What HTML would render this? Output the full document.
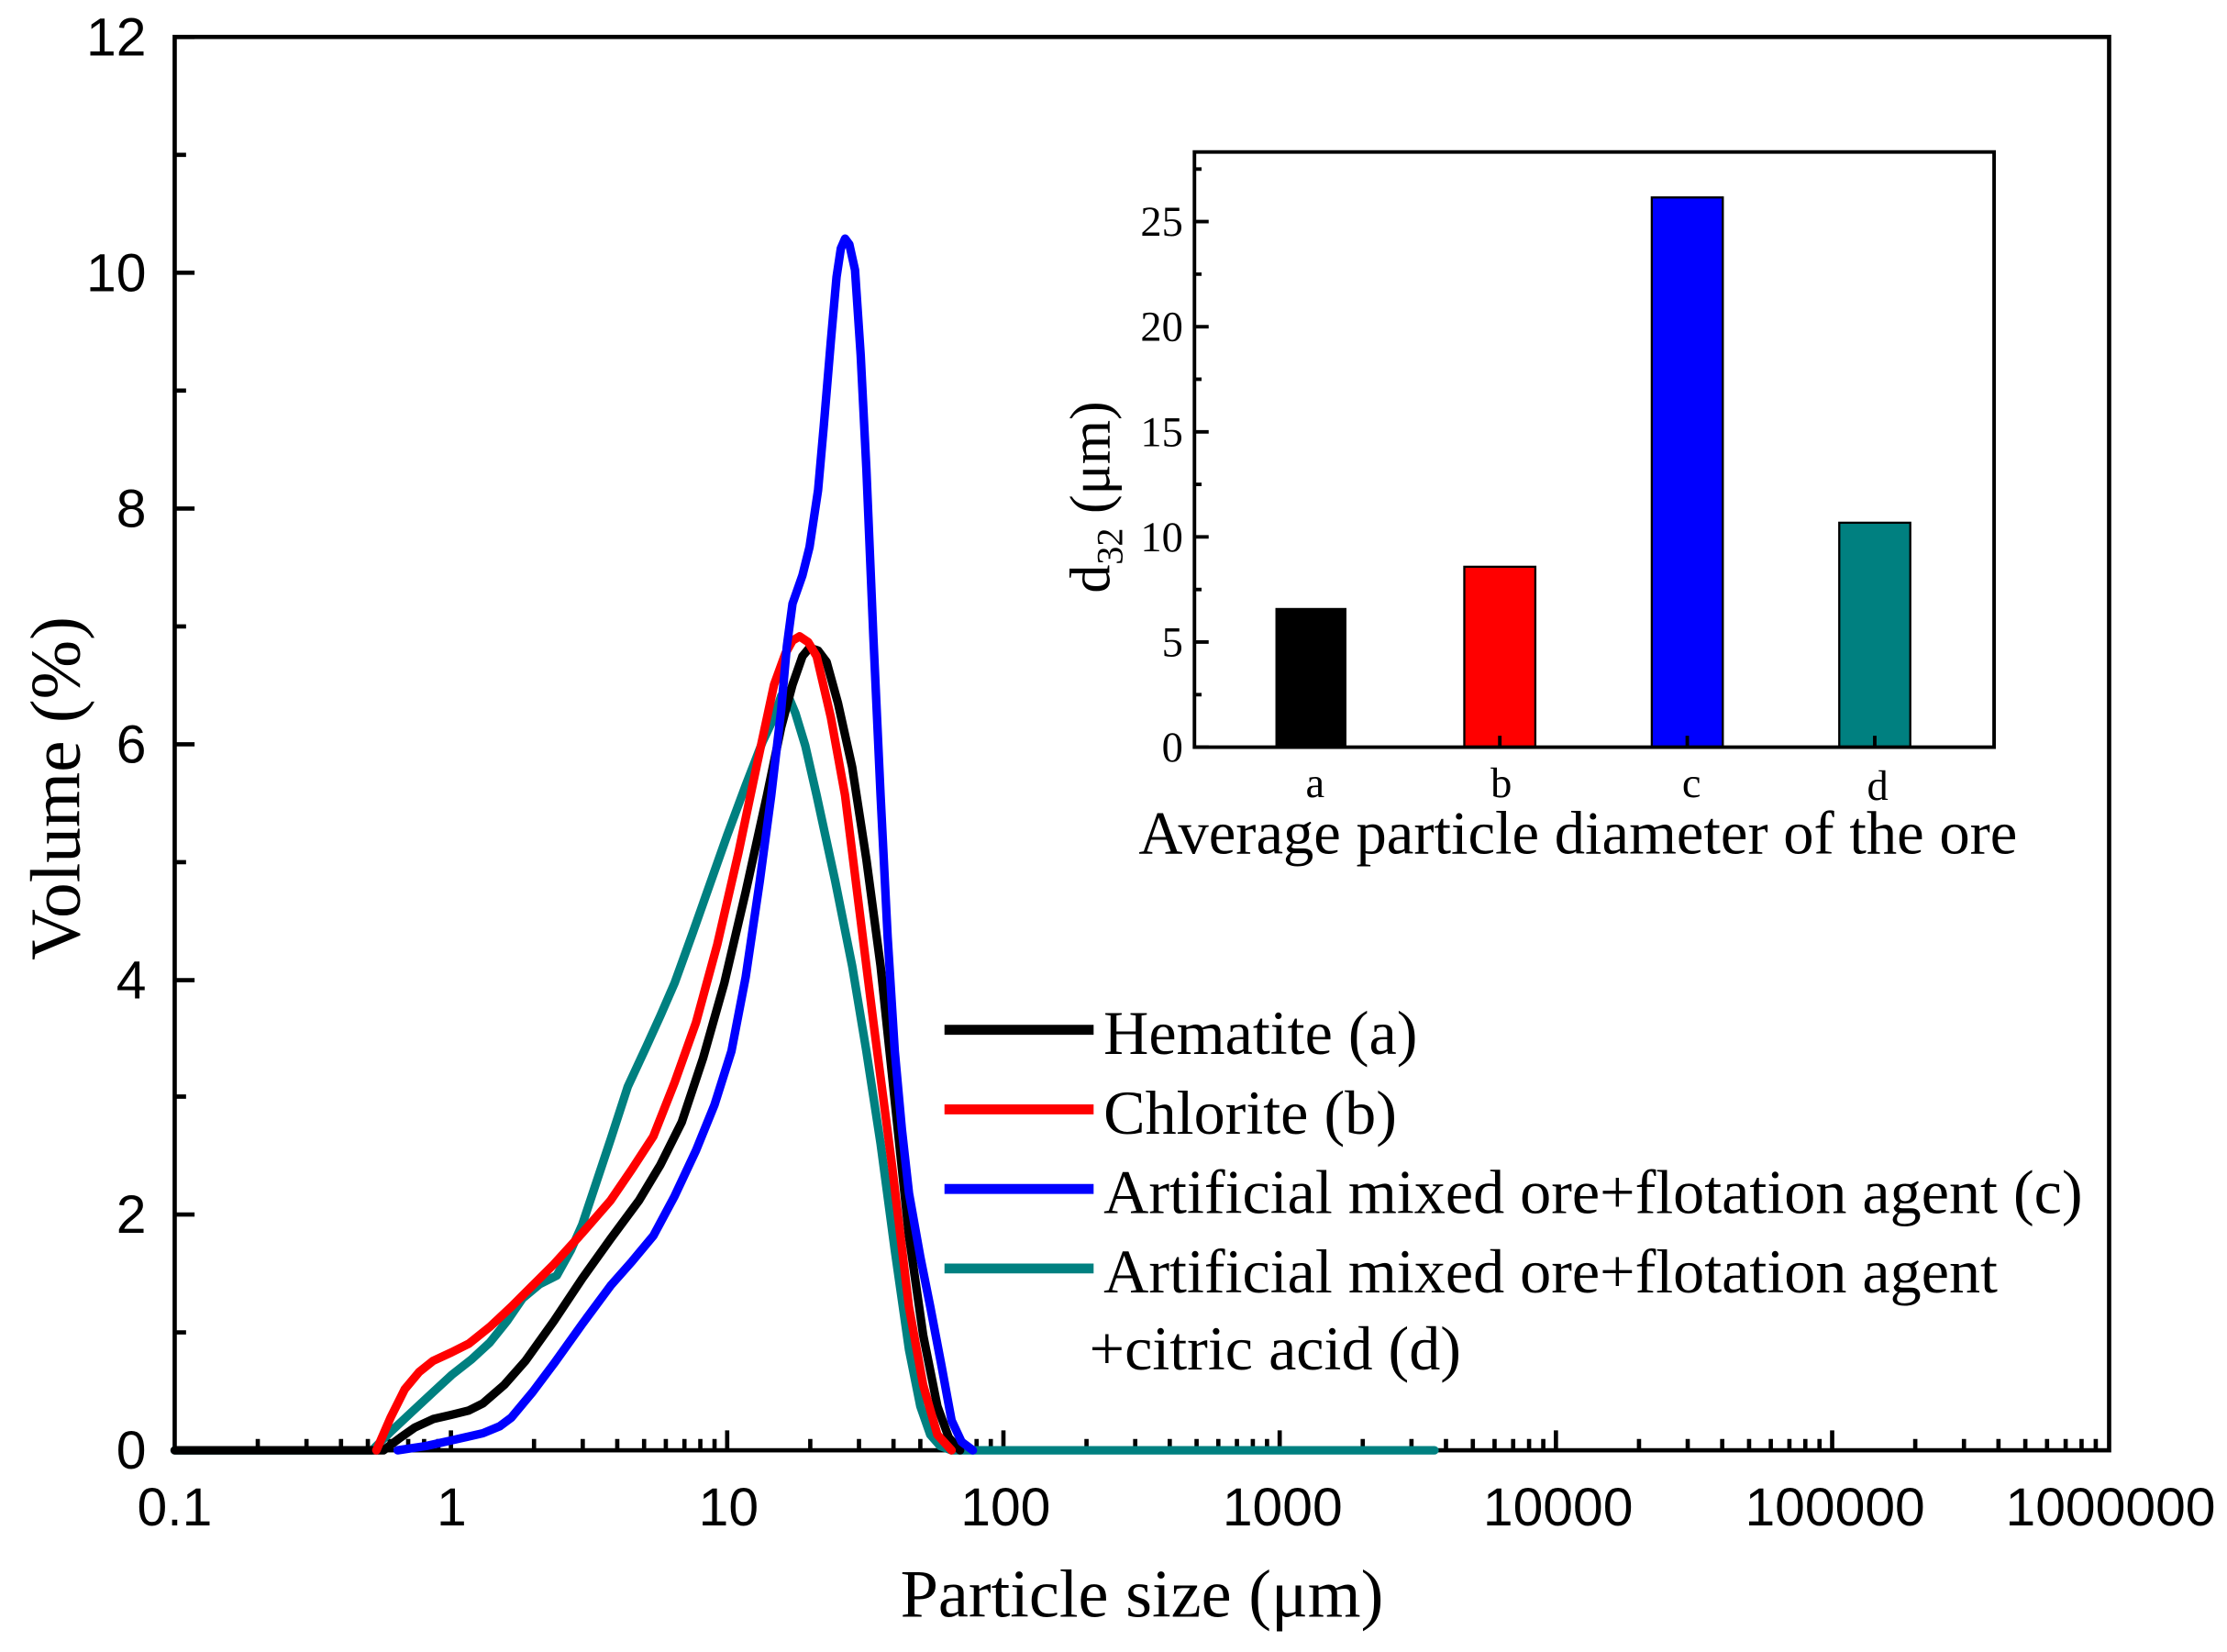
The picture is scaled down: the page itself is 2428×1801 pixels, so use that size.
<!DOCTYPE html>
<html><head><meta charset="utf-8"><style>html,body{margin:0;padding:0;background:#fff}svg{display:block}</style></head>
<body>
<svg width="2428" height="1801" viewBox="0 0 1568 1163" preserveAspectRatio="none" xmlns="http://www.w3.org/2000/svg">
<rect width="1568" height="1163" fill="#fff"/>
<g stroke="#000" stroke-width="3" fill="none">
<rect x="123" y="26" width="1362" height="995"/>
<path d="M123 1021h14M123 855h14M123 690h14M123 524h14M123 358h14M123 192h14M123 26h14
M123 938h8M123 772h8M123 607h8M123 441h8M123 275h8M123 109h8"/>
<path d="M317.5 1021v-14M512 1021v-14M706.5 1021v-14M901 1021v-14M1095.5 1021v-14M1290 1021v-14
M181.5 1021v-8M215.8 1021v-8M240.1 1021v-8M259 1021v-8M274.3 1021v-8M287.4 1021v-8M298.6 1021v-8M308.6 1021v-8
M376 1021v-8M410.3 1021v-8M434.6 1021v-8M453.5 1021v-8M468.8 1021v-8M481.9 1021v-8M493.1 1021v-8M503.1 1021v-8
M570.5 1021v-8M604.8 1021v-8M629.1 1021v-8M648 1021v-8M663.3 1021v-8M676.4 1021v-8M687.6 1021v-8M697.6 1021v-8
M765 1021v-8M799.3 1021v-8M823.6 1021v-8M842.5 1021v-8M857.8 1021v-8M870.9 1021v-8M882.1 1021v-8M892.1 1021v-8
M959.5 1021v-8M993.8 1021v-8M1018.1 1021v-8M1037 1021v-8M1052.3 1021v-8M1065.4 1021v-8M1076.6 1021v-8M1086.6 1021v-8
M1154 1021v-8M1188.3 1021v-8M1212.6 1021v-8M1231.5 1021v-8M1246.8 1021v-8M1259.9 1021v-8M1271.1 1021v-8M1281.1 1021v-8
M1348.5 1021v-8M1382.8 1021v-8M1407.1 1021v-8M1426 1021v-8M1441.3 1021v-8M1454.4 1021v-8M1465.6 1021v-8M1475.6 1021v-8"/>
</g>
<g font-family="Liberation Sans, sans-serif" font-size="38" text-anchor="end" fill="#000">
<text x="103" y="1034">0</text><text x="103" y="868">2</text><text x="103" y="703">4</text><text x="103" y="537">6</text><text x="103" y="371">8</text><text x="103" y="205">10</text><text x="103" y="39">12</text>
</g>
<g font-family="Liberation Sans, sans-serif" font-size="38" text-anchor="middle" fill="#000">
<text x="123" y="1074">0.1</text><text x="318" y="1074">1</text><text x="513" y="1074">10</text><text x="708" y="1074">100</text><text x="903" y="1074">1000</text><text x="1097" y="1074">10000</text><text x="1292" y="1074">100000</text><text x="1486" y="1074">1000000</text>
</g>
<text x="804" y="1138" font-family="Liberation Serif, serif" font-size="48" text-anchor="middle">Particle size (μm)</text>
<text transform="translate(56 555) rotate(-90)" font-family="Liberation Serif, serif" font-size="50" text-anchor="middle">Volume (%)</text>
<g fill="none" stroke-width="6" stroke-linejoin="round" stroke-linecap="round">
<polyline stroke="#008080" points="123,1021 262,1021 275,1008 290,994 305,980 318,968 332,957 345,945 357,930 368,914 380,904 392,898 402,880 410,862 420,832 430,802 442,765 455,737 465,715 475,692 488,656 500,622 512,588 525,553 537,522 545,505 550,490 555,490 560,502 567,525 575,560 588,620 600,680 610,740 620,805 630,880 640,950 648,990 655,1010 662,1018 670,1021 1010,1021"/>
<polyline stroke="#000" points="123,1021 270,1021 282,1012 292,1005 305,999 318,996 330,993 340,988 355,975 370,958 390,930 410,900 430,872 450,845 465,820 480,790 495,745 510,692 525,628 540,560 550,512 558,482 565,462 570,456 576,458 582,466 590,495 600,540 610,605 620,680 630,775 640,870 650,940 660,990 668,1012 676,1021"/>
<polyline stroke="#f00" points="265,1021 275,998 285,978 295,966 305,958 318,952 330,946 345,934 360,920 375,905 390,890 410,868 430,845 445,823 460,800 475,762 490,720 505,665 520,600 533,538 545,482 553,460 558,451 563,448 569,452 575,462 585,505 595,560 605,640 615,720 628,820 640,920 650,975 660,1010 670,1021"/>
<polyline stroke="#00f" points="280,1021 300,1018 318,1014 340,1009 352,1004 360,998 375,980 390,960 410,932 430,905 445,888 460,870 475,842 490,810 503,778 515,740 525,688 535,620 543,560 550,500 554,455 558,425 565,405 570,385 576,345 580,300 585,240 589,195 592,175 595,168 598,172 602,190 606,250 610,330 615,450 620,560 625,660 630,740 635,795 640,840 648,885 655,920 663,962 670,1000 677,1015 685,1021"/>
</g>
<g stroke-width="7">
<line x1="665" y1="725" x2="770" y2="725" stroke="#000"/>
<line x1="665" y1="781" x2="770" y2="781" stroke="#f00"/>
<line x1="665" y1="837" x2="770" y2="837" stroke="#00f"/>
<line x1="665" y1="893" x2="770" y2="893" stroke="#008080"/>
</g>
<g font-family="Liberation Serif, serif" font-size="44" fill="#000">
<text x="777" y="742">Hematite (a)</text>
<text x="777" y="798">Chlorite (b)</text>
<text x="777" y="854">Artificial mixed ore+flotation agent (c)</text>
<text x="777" y="910">Artificial mixed ore+flotation agent</text>
<text x="767" y="964">+citric acid (d)</text>
</g>
<rect x="898" y="428" width="50" height="98" fill="#000"/>
<rect x="1031" y="399" width="50" height="127" fill="#f00" stroke="#000" stroke-width="1.5"/>
<rect x="1163" y="139" width="50" height="387" fill="#00f" stroke="#000" stroke-width="1.5"/>
<rect x="1295" y="368" width="50" height="158" fill="#008080" stroke="#000" stroke-width="1.5"/>
<rect x="841" y="107" width="563" height="419" fill="none" stroke="#000" stroke-width="2.5"/>
<g stroke="#000" stroke-width="2.5">
<path d="M841 526h10M841 452h10M841 378h10M841 304h10M841 230h10M841 156h10M841 489h5M841 415h5M841 341h5M841 267h5M841 193h5M841 119h5M924 526v-8M1056 526v-8M1188 526v-8M1320 526v-8"/>
</g>
<g font-family="Liberation Serif, serif" font-size="30" text-anchor="end">
<text x="833" y="536">0</text><text x="833" y="462">5</text><text x="833" y="388">10</text><text x="833" y="314">15</text><text x="833" y="240">20</text><text x="833" y="166">25</text>
</g>
<g font-family="Liberation Serif, serif" font-size="30" text-anchor="middle">
<text x="926" y="561">a</text><text x="1057" y="561">b</text><text x="1191" y="561">c</text><text x="1322" y="563">d</text>
</g>
<text x="1111" y="601" font-family="Liberation Serif, serif" font-size="43" text-anchor="middle">Average particle diameter of the ore</text>
<text transform="translate(781 350) rotate(-90)" font-family="Liberation Serif, serif" font-size="40" text-anchor="middle">d<tspan font-size="26" dy="9">32</tspan><tspan dy="-9"> (μm)</tspan></text>
</svg>
</body></html>
